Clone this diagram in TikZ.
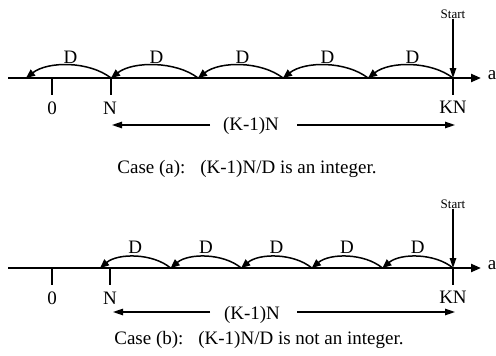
\documentclass[tikz,border=0pt]{standalone}
\usepackage{fontspec}
\setmainfont{Liberation Serif}
\usetikzlibrary{arrows.meta,calc}
\begin{document}
\begin{tikzpicture}[x=1pt,y=-1pt,
  axisline/.style={line width=2.2pt,-{Triangle[length=10pt,width=8pt]}},
  hop/.style={line width=1.5pt,-{Triangle[length=9pt,width=7.5pt]}},
  tickmark/.style={line width=1.3pt},
  span/.style={line width=1.2pt,-{Triangle[length=10pt,width=6.5pt]}},
  startarrow/.style={line width=1.3pt,-{Triangle[length=10pt,width=6.5pt]}},
  lbl/.style={inner sep=0pt,font=\fontsize{19}{22}\selectfont},
  small/.style={inner sep=0pt,font=\fontsize{13}{15}\selectfont}]
\useasboundingbox (0,0) rectangle (496,356);

% ---------- Case (a): jumps of D land exactly on N ----------
\coordinate (a-left) at (8,78);
\coordinate (a-end) at (481,78);
\draw[axisline] (a-left) -- (a-end);
\node[lbl] (a-a) at (492,75) {a};

\foreach \i/\x in {0/453,1/368,2/283,3/198,4/111,5/26}
  \coordinate (a-p\i) at (\x,78);
\coordinate (a-zero) at (52,78);

\foreach \i/\j in {0/1,1/2,2/3,3/4,4/5}{
  \draw[hop] (a-p\i) .. controls +(-22,-17) and +(22,-17) .. (a-p\j);
  \node[lbl] (a-d\i) at ($(a-p\i)!0.5!(a-p\j)+(2,-21)$) {D};
}

\draw[tickmark] (a-zero) -- ++(0,17);
\draw[tickmark] (a-p4) -- ++(0,17);
\draw[tickmark] (a-p0) -- ++(0,17);
\node[lbl] (a-l0) at (52,108) {0};
\node[lbl] (a-lN) at (110,108) {N};
\node[lbl] (a-lKN) at (453,107) {KN};

\node[small] (a-start) at (453,14) {Start};
\draw[startarrow] (a-start.south) -- (a-p0);

\node[lbl] (a-span) at (251,126) {(K-1)N};
\coordinate (a-sl) at (210,125);
\coordinate (a-sltip) at (112,125);
\coordinate (a-sr) at (297,125);
\coordinate (a-srtip) at (455,125);
\draw[span] (a-sl) -- (a-sltip);
\draw[span] (a-sr) -- (a-srtip);

\node[lbl] (a-cap) at (247,169) {Case (a):\hspace{0.45em} (K-1)N/D is an integer.};

% ---------- Case (b): jumps of D overshoot N ----------
\coordinate (b-left) at (8,268);
\coordinate (b-end) at (481,268);
\draw[axisline] (b-left) -- (b-end);
\node[lbl] (b-a) at (492,265) {a};

\foreach \i/\x in {0/453,1/382.4,2/311.8,3/241.2,4/170.6,5/100}
  \coordinate (b-p\i) at (\x,268);
\coordinate (b-zero) at (52,268);
\coordinate (b-N) at (110,268);

\foreach \i/\j in {0/1,1/2,2/3,3/4,4/5}{
  \draw[hop] (b-p\i) .. controls +(-18,-15) and +(18,-15) .. (b-p\j);
  \node[lbl] (b-d\i) at ($(b-p\i)!0.5!(b-p\j)+(0,-21)$) {D};
}

\draw[tickmark] (b-zero) -- ++(0,17);
\draw[tickmark] (b-N) -- ++(0,17);
\draw[tickmark] (b-p0) -- ++(0,17);
\node[lbl] (b-l0) at (52,298) {0};
\node[lbl] (b-lN) at (110,298) {N};
\node[lbl] (b-lKN) at (453,297) {KN};

\node[small] (b-start) at (453,204) {Start};
\draw[startarrow] (b-start.south) -- (b-p0);

\node[lbl] (b-span) at (252,315) {(K-1)N};
\coordinate (b-sl) at (210,312);
\coordinate (b-sltip) at (113,312);
\coordinate (b-sr) at (297,312);
\coordinate (b-srtip) at (455,312);
\draw[span] (b-sl) -- (b-sltip);
\draw[span] (b-sr) -- (b-srtip);

\node[lbl] (b-cap) at (259,340) {Case (b):\hspace{0.45em} (K-1)N/D is not an integer.};
\end{tikzpicture}
\end{document}
